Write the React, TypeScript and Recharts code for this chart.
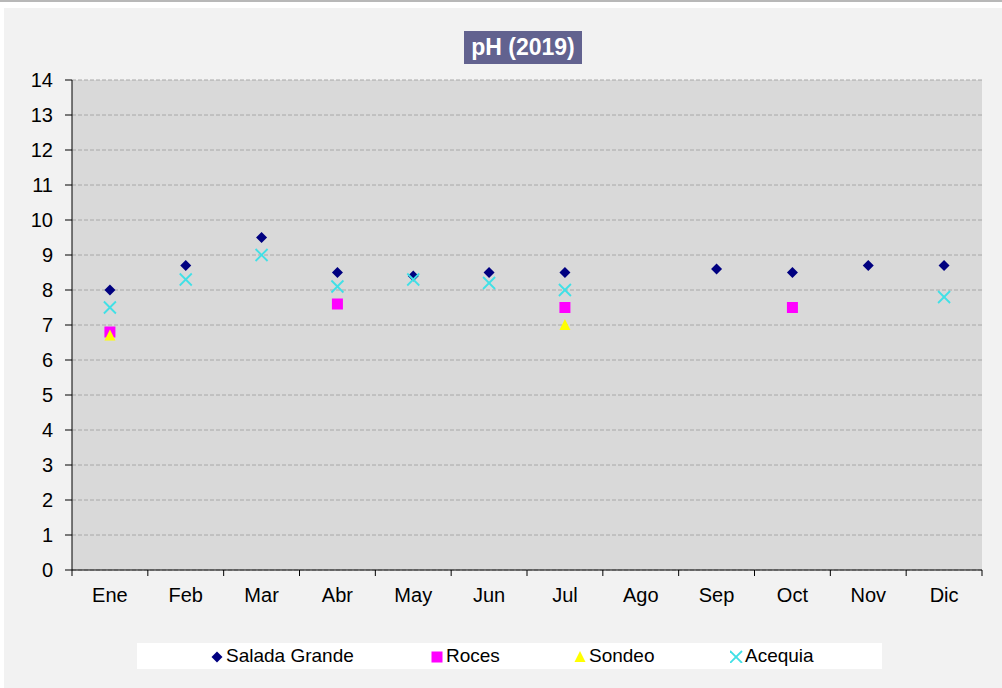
import { ScatterChart, Scatter, XAxis, YAxis, CartesianGrid } from 'recharts'

const months = ['Ene', 'Feb', 'Mar', 'Abr', 'May', 'Jun', 'Jul', 'Ago', 'Sep', 'Oct', 'Nov', 'Dic']

const saladaGrande = [8.0, 8.7, 9.5, 8.5, 8.4, 8.5, 8.5, null, 8.6, 8.5, 8.7, 8.7]
const roces = [6.8, null, null, 7.6, null, null, 7.5, null, null, 7.5, null, null]
const sondeo = [6.7, null, null, null, null, null, 7.0, null, null, null, null, null]
const acequia = [7.5, 8.3, 9.0, 8.1, 8.3, 8.2, 8.0, null, null, null, null, 7.8]

const yTicks = [0, 1, 2, 3, 4, 5, 6, 7, 8, 9, 10, 11, 12, 13, 14]
const xTicks = [0, 1, 2, 3, 4, 5, 6, 7, 8, 9, 10, 11, 12]

const W = 1002
const H = 688
const margin = { top: 80, right: 20, bottom: 88, left: 12 }
const Y_AXIS_W = 60
const plotW = W - margin.left - margin.right - Y_AXIS_W
const font = '"Liberation Sans", Arial, sans-serif'

// each month sits in the middle of its band, 0..12 on a numeric axis
const toPoints = (vals: (number | null)[]) =>
  vals
    .map((v, i) => (v == null ? null : { x: i + 0.5, y: v, month: months[i] }))
    .filter(Boolean) as { x: number; y: number; month: string }[]

const Diamond = (props: any) => {
  const { cx, cy } = props
  const r = 5.5
  return <polygon points={`${cx},${cy - r} ${cx + r},${cy} ${cx},${cy + r} ${cx - r},${cy}`} fill="#000080" />
}

const Square = (props: any) => {
  const { cx, cy } = props
  return <rect x={cx - 5.5} y={cy - 5.5} width={11} height={11} fill="#ff00ff" />
}

const Triangle = (props: any) => {
  const { cx, cy } = props
  return <polygon points={`${cx},${cy - 6} ${cx + 5.5},${cy + 5} ${cx - 5.5},${cy + 5}`} fill="#ffff00" />
}

const Cross = (props: any) => {
  const { cx, cy } = props
  const r = 6
  return (
    <g stroke="#40e0e6" strokeWidth={1.8}>
      <line x1={cx - r} y1={cy - r} x2={cx + r} y2={cy + r} />
      <line x1={cx - r} y1={cy + r} x2={cx + r} y2={cy - r} />
    </g>
  )
}

const MonthTick = (props: any) => {
  const { x, y, payload } = props
  const i = payload.value
  if (i >= months.length) return null
  return (
    <text x={x + plotW / 24} y={y + 24} textAnchor="middle" fill="#000" fontSize={20} fontFamily={font}>
      {months[i]}
    </text>
  )
}

const legendItems = [
  { name: 'Salada Grande', mark: 'diamond', left: 211 },
  { name: 'Roces', mark: 'square', left: 431 },
  { name: 'Sondeo', mark: 'triangle', left: 574 },
  { name: 'Acequia', mark: 'cross', left: 730 },
]

const LegendMark = ({ mark }: { mark: string }) => (
  <svg width={13} height={14} style={{ display: 'block' }}>
    {mark === 'diamond' && <Diamond cx={6} cy={8} />}
    {mark === 'square' && <Square cx={6} cy={8} />}
    {mark === 'triangle' && <Triangle cx={6} cy={8} />}
    {mark === 'cross' && <Cross cx={6} cy={8} />}
  </svg>
)

export default function App() {
  return (
    <div
      style={{
        position: 'fixed',
        left: 0,
        top: 0,
        width: W,
        height: H,
        background: '#fff',
        borderTop: '2px solid #b8b8b8',
        boxSizing: 'border-box',
        overflow: 'hidden',
        fontFamily: font,
      }}
    >
      <div style={{ position: 'absolute', left: 4, top: 6, right: 0, bottom: 0, background: '#f2f2f2' }} />
      <div
        style={{
          position: 'absolute',
          left: 464,
          top: 29,
          width: 118,
          height: 33,
          background: '#62628f',
          color: '#fff',
          fontWeight: 'bold',
          fontSize: 23,
          lineHeight: '33px',
          textAlign: 'center',
        }}
      >
        pH (2019)
      </div>
      <div style={{ position: 'absolute', left: 0, top: -2 }}>
        <ScatterChart width={W} height={H} margin={margin}>
          <CartesianGrid vertical={false} fill="#d9d9d9" stroke="#a8a8a8" strokeDasharray="4 2" />
          <XAxis
            type="number"
            dataKey="x"
            domain={[0, 12]}
            ticks={xTicks}
            interval={0}
            height={30}
            stroke="#000"
            tickSize={6}
            tick={<MonthTick />}
          />
          <YAxis
            type="number"
            dataKey="y"
            domain={[0, 14]}
            ticks={yTicks}
            interval={0}
            width={Y_AXIS_W}
            stroke="#000"
            tickSize={7}
            tickMargin={12}
            tick={{ fill: '#000', fontSize: 20, fontFamily: font }}
          />
          <Scatter name="Salada Grande" data={toPoints(saladaGrande)} shape={<Diamond />} isAnimationActive={false} />
          <Scatter name="Acequia" data={toPoints(acequia)} shape={<Cross />} isAnimationActive={false} />
          <Scatter name="Roces" data={toPoints(roces)} shape={<Square />} isAnimationActive={false} />
          <Scatter name="Sondeo" data={toPoints(sondeo)} shape={<Triangle />} isAnimationActive={false} />
        </ScatterChart>
      </div>
      <div style={{ position: 'absolute', left: 137, top: 641, width: 745, height: 26, background: '#fff' }}>
        {legendItems.map((it) => (
          <div
            key={it.name}
            style={{
              position: 'absolute',
              left: it.left - 137,
              top: 0,
              height: 26,
              display: 'flex',
              alignItems: 'center',
              gap: 2,
              fontSize: 19,
              color: '#000',
              whiteSpace: 'nowrap',
            }}
          >
            <LegendMark mark={it.mark} />
            <span>{it.name}</span>
          </div>
        ))}
      </div>
    </div>
  )
}
